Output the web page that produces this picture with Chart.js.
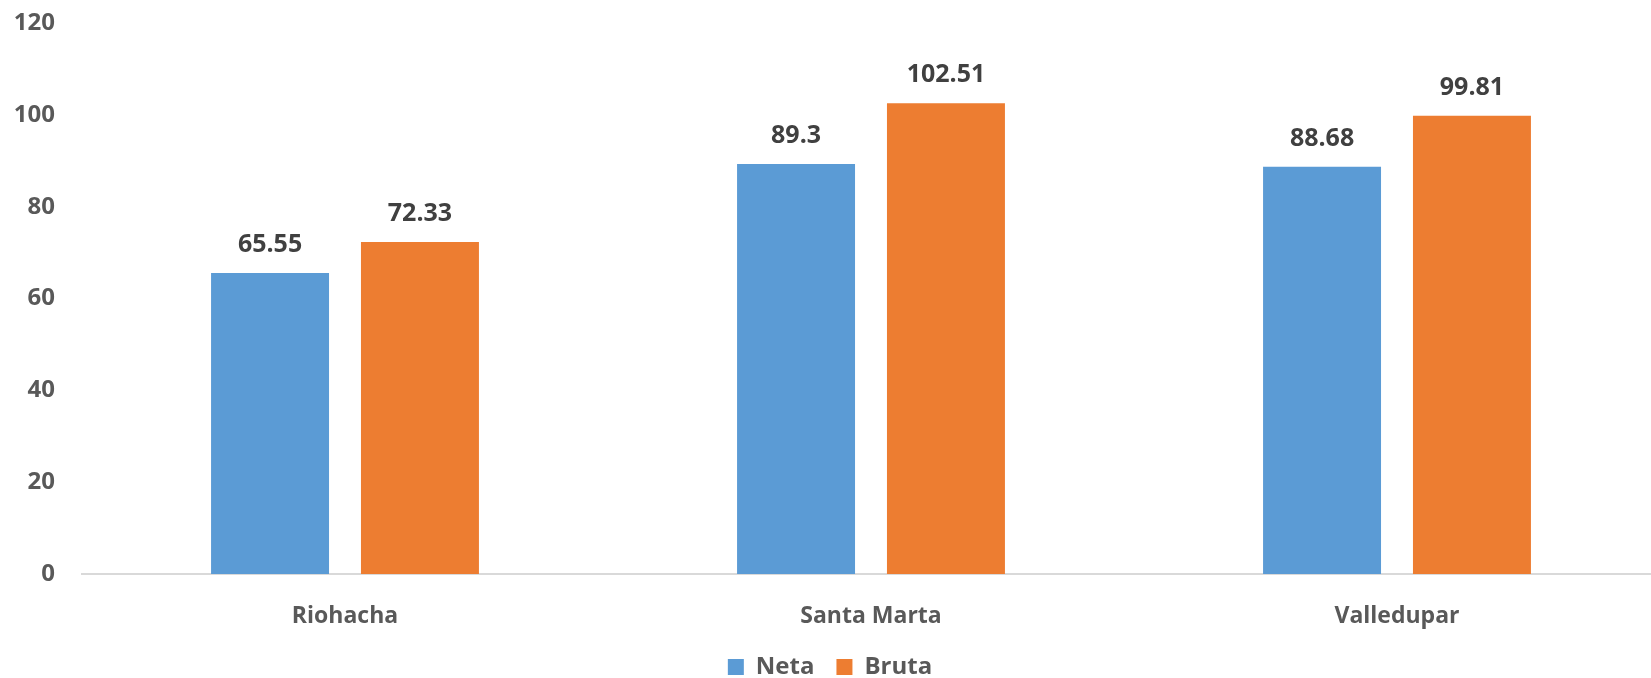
<!DOCTYPE html>
<html>
<head>
<meta charset="utf-8">
<script src="https://cdn.jsdelivr.net/npm/chart.js@4.4.0/dist/chart.umd.min.js"></script>
<style>
    html, body { margin: 0; padding: 0; background: #fff; overflow: hidden; }
    #wrap { position: relative; width: 1660px; height: 689px; }
</style>
</head>
<body>
<div id="wrap"><canvas id="grafico"></canvas></div>
<script>
// Datos del gráfico
const ciudades = ['Riohacha', 'Santa Marta', 'Valledupar'];
const neta = [65.55, 89.3, 88.68];
const bruta = [72.33, 102.51, 99.81];
const ticksY = [0, 20, 40, 60, 80, 100, 120];

const fuente = "'Open Sans', sans-serif";

// Etiquetas de valor sobre las barras
const etiquetasValor = {
    id: 'etiquetasValor',
    afterDatasetsDraw(chart) {
        const ctx = chart.ctx;
        ctx.save();
        ctx.font = 'bold 25px ' + fuente;
        ctx.fillStyle = '#404040';
        ctx.textAlign = 'center';
        ctx.textBaseline = 'middle';
        chart.data.datasets.forEach((ds, i) => {
            chart.getDatasetMeta(i).data.forEach((bar, j) => {
                ctx.fillText(String(ds.data[j]), bar.x, bar.y - 28);
            });
        });
        ctx.restore();
    }
};

new Chart(document.getElementById('grafico'), {
    type: 'bar',
    data: {
        labels: ciudades,
        datasets: [
            { label: 'Neta', data: neta, backgroundColor: '#5B9BD5' },
            { label: 'Bruta', data: bruta, backgroundColor: '#ED7D31' }
        ]
    },
    options: {
        responsive: true,
        maintainAspectRatio: false,
        animation: false,
        categoryPercentage: 0.57,
        barPercentage: 0.787,
        layout: { padding: { top: 23, right: 0, left: 0, bottom: 0 } },
        plugins: {
            tooltip: { enabled: false },
            legend: {
                position: 'bottom',
                labels: {
                    boxWidth: 16,
                    boxHeight: 16,
                    padding: 22,
                    color: '#595959',
                    font: { family: fuente, size: 24, weight: 'bold' }
                }
            }
        },
        scales: {
            x: {
                grid: { display: false, drawTicks: false },
                border: { display: true, color: '#D9D9D9', width: 2 },
                ticks: {
                    padding: 29,
                    color: '#595959',
                    font: { family: fuente, size: 23, weight: 'bold' }
                },
                afterFit: s => { s.height = 59; }
            },
            y: {
                min: 0,
                max: 120,
                grid: { display: false, drawTicks: false },
                border: { display: false },
                afterBuildTicks: s => { s.ticks = ticksY.map(v => ({ value: v })); },
                ticks: {
                    padding: 27,
                    color: '#595959',
                    font: { family: fuente, size: 24, weight: 'bold' }
                },
                afterFit: s => {
                    s.width = 82;
                    s.paddingTop = 0;
                    s.paddingBottom = 0;
                }
            }
        }
    },
    plugins: [etiquetasValor]
});
</script>
</body>
</html>
